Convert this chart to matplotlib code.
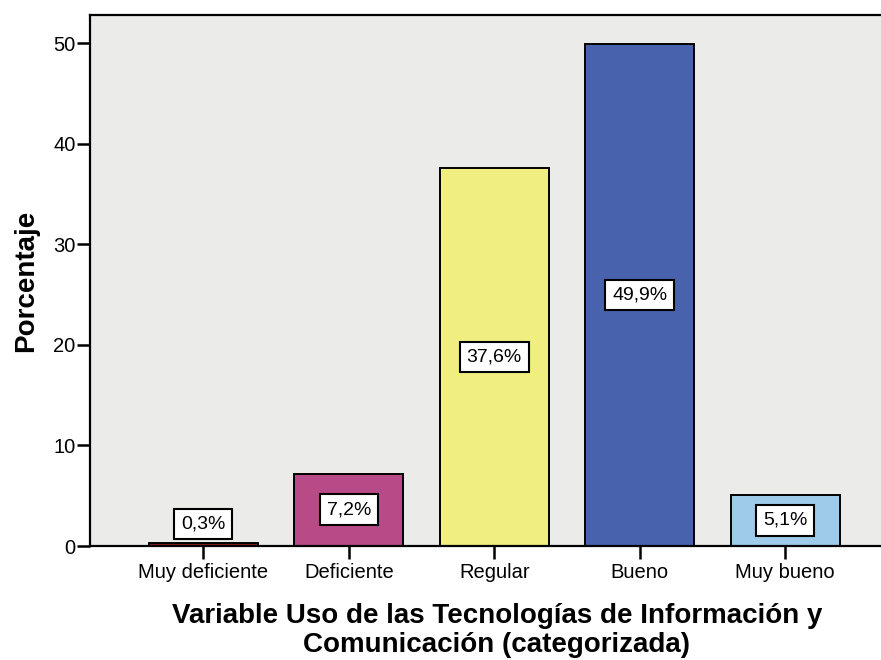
import matplotlib
matplotlib.use("Agg")
import matplotlib.pyplot as plt

categories = ["Muy deficiente", "Deficiente", "Regular", "Bueno", "Muy bueno"]
values = [0.3, 7.2, 37.6, 49.9, 5.1]
labels = ["0,3%", "7,2%", "37,6%", "49,9%", "5,1%"]
colors = ["#8c1c1c", "#b84a88", "#f0ee80", "#4862ad", "#9ecbe9"]
yticks = [0, 10, 20, 30, 40, 50]

plt.rcParams["font.family"] = ["Liberation Sans", "DejaVu Sans"]

fig = plt.figure(figsize=(8.81, 6.6), dpi=100)
ax = fig.add_axes([90 / 881, 1 - 546 / 660, 1 - 90 / 881, (546 - 15) / 660])
ax.set_facecolor("#ebebea")

x = list(range(len(categories)))
ax.bar(x, values, width=0.75, color=colors, edgecolor="black", linewidth=1.4, zorder=2)

for xi, v, lab in zip(x, values, labels):
    yl = v / 2 if v > 3 else v + 1.9
    ax.text(xi, yl, lab, ha="center", va="center", fontsize=14, zorder=4,
            bbox=dict(boxstyle="square,pad=0.35", facecolor="white", edgecolor="black", linewidth=1.5))

ax.set_xlim(-0.78, 4.66)
ax.set_ylim(0, 52.8)
ax.set_xticks(x)
ax.set_xticklabels(categories, fontsize=14.5)
ax.set_yticks(yticks)
ax.set_yticklabels([str(t) for t in yticks], fontsize=14.5)
ax.tick_params(axis="both", length=9.5, width=1.8, color="black")
ax.tick_params(axis="y", pad=1)
ax.tick_params(axis="x", pad=3)

ax.spines["right"].set_visible(False)
for s in ["left", "top", "bottom"]:
    ax.spines[s].set_linewidth(1.6)

ax.set_ylabel("Porcentaje", fontsize=20, fontweight="bold", labelpad=10)
ax.set_xlabel("Variable Uso de las Tecnologías de Información y\nComunicación (categorizada)",
              fontsize=20, fontweight="bold", labelpad=15, linespacing=1.12)
ax.xaxis.label.set_x((497 - 90) / 791)

fig.savefig("out.png", dpi=100)
